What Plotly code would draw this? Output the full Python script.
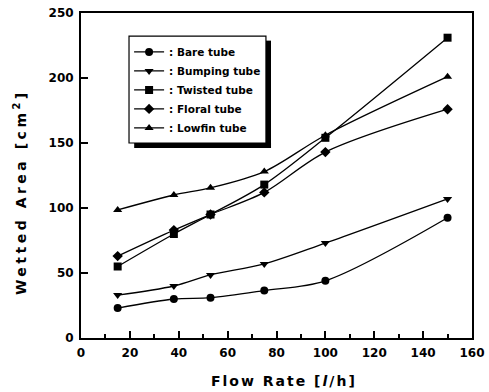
import plotly.graph_objects as go

flow = [15, 38, 53, 75, 100, 150]
bare = [23, 30, 31, 36.5, 44, 92.5]
bumping = [33, 40, 48.5, 57, 73, 107]
twisted = [55, 80, 95, 118, 154, 231]
floral = [63, 83, 95, 112, 143, 176]
lowfin = [98.5, 110, 115.5, 128, 156, 201]

series = [
    (": Bare tube", bare, "circle"),
    (": Bumping tube", bumping, "triangle-down"),
    (": Twisted tube", twisted, "square"),
    (": Floral tube", floral, "diamond"),
    (": Lowfin tube", lowfin, "triangle-up"),
]

fig = go.Figure()
for i, (name, vals, sym) in enumerate(series):
    fig.add_trace(go.Scatter(
        x=flow, y=vals, name=name, mode="lines+markers", legendgroup=f"g{i}",
        line=dict(color="black", width=1.3, shape="spline", smoothing=0.9),
        marker=dict(symbol=sym, color="black", size=8),
    ))

font_main = "DejaVu Sans, Arial, sans-serif"
axis_common = dict(
    showline=True, linecolor="black", linewidth=2, mirror=True,
    ticks="inside", tickcolor="black", tickwidth=1.5, ticklen=7,
    showgrid=False, zeroline=False, automargin=False, ticklabelstandoff=3,
    tickfont=dict(family=font_main, size=12, color="black", weight="bold"),
)
title_font = dict(family=font_main, size=14, color="black", weight="bold")

# legend frame (paper coords)
fig.add_shape(type="rect", xref="paper", yref="paper",
              x0=0.1228, x1=0.473, y0=0.600, y1=0.929,
              fillcolor="white", line=dict(color="black", width=1.2), layer="above")
# drop shadow on right and bottom
fig.add_shape(type="line", xref="paper", yref="paper",
              x0=0.4795, x1=0.4795, y0=0.588, y1=0.915,
              line=dict(color="black", width=5), layer="above")
fig.add_shape(type="line", xref="paper", yref="paper",
              x0=0.136, x1=0.486, y0=0.5925, y1=0.5925,
              line=dict(color="black", width=5), layer="above")

# axis titles
fig.add_annotation(xref="paper", yref="paper", x=0.519, y=-0.132,
                   xanchor="center", yanchor="middle", showarrow=False,
                   text='<span style="letter-spacing:2px">Flow Rate [<i>l</i>/h]</span>',
                   font=title_font)
fig.add_annotation(xref="paper", yref="paper", x=-0.156, y=0.449,
                   xanchor="center", yanchor="middle", showarrow=False, textangle=-90,
                   text='<span style="letter-spacing:3.5px">Wetted Area [cm<sup>2</sup>]</span>',
                   font=title_font)

fig.update_layout(
    width=489, height=392,
    margin=dict(l=81, r=17, t=13, b=54),
    paper_bgcolor="white", plot_bgcolor="white",
    showlegend=True,
    legend=dict(
        x=0.123, y=0.925, xanchor="left", yanchor="top",
        bgcolor="rgba(0,0,0,0)", borderwidth=0,
        font=dict(family=font_main, size=10.5, color="black", weight="bold"),
        itemwidth=30, tracegroupgap=0,
    ),
    xaxis=dict(
        range=[0, 160], tickmode="array", tickvals=[0, 20, 40, 60, 80, 100, 120, 140, 160],
        minor=dict(ticks="inside", ticklen=4, tickcolor="black", dtick=10, tickwidth=1.5),
        **axis_common,
    ),
    yaxis=dict(
        range=[0, 250], tickmode="array", tickvals=[0, 50, 100, 150, 200, 250],
        **axis_common,
    ),
)

fig.write_html("out.html", config={"displayModeBar": False},
               post_script="document.body.style.margin='0';")
